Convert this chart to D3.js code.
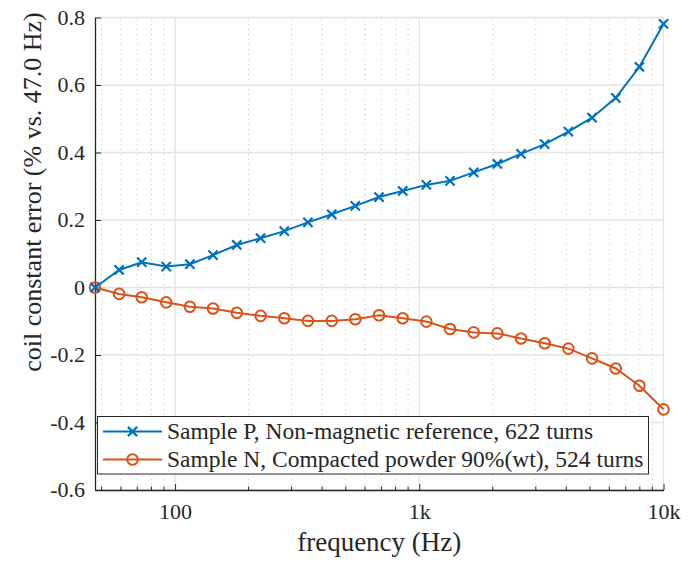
<!DOCTYPE html>
<html>
<head>
<meta charset="utf-8">
<script src="https://cdn.jsdelivr.net/npm/d3@7"></script>
<style>
  body { margin: 0; background: #fff; }
  text { font-family: 'Liberation Serif', serif; }
</style>
</head>
<body>
<svg></svg>
<script>
// frequencies (Hz)
var freqs = [47, 59, 73, 92, 115, 143, 179, 224, 280, 350, 438, 547, 684, 855,
    1069, 1336, 1670, 2088, 2610, 3263, 4079, 5099, 6374, 7968, 10000];
// coil constant error (% vs. 47.0 Hz)
var sampleP = [0, 0.052, 0.075, 0.062, 0.069, 0.096, 0.126, 0.146, 0.167, 0.193, 0.217, 0.242, 0.268, 0.286,
    0.304, 0.316, 0.341, 0.366, 0.396, 0.425, 0.462, 0.503, 0.562, 0.654, 0.781];
var sampleN = [0, -0.019, -0.029, -0.044, -0.057, -0.062, -0.075, -0.084, -0.091, -0.099, -0.099, -0.094, -0.082, -0.091,
    -0.101, -0.123, -0.133, -0.136, -0.151, -0.165, -0.181, -0.210, -0.240, -0.291, -0.361];
var seriesNames = ['Sample P, Non-magnetic reference, 622 turns',
    'Sample N, Compacted powder 90%(wt), 524 turns'];
var yTicks = [-0.6, -0.4, -0.2, 0, 0.2, 0.4, 0.6, 0.8];
var xTicks = [100, 1000, 10000];
var xTickLabels = ['100', '1k', '10k'];

var width = 700, height = 563;
var margin = {top: 17.5, right: 36.5, bottom: 73, left: 95};
var serifFace = 'Liberation Serif';
var ink = '#262626';

var svg = d3.select('svg')
    .attr('width', width)
    .attr('height', height)
    .attr('font-family', serifFace);

var x = d3.scaleLog()
    .domain([47, 10000])
    .range([margin.left, width - margin.right]);
var y = d3.scaleLinear()
    .domain([-0.6, 0.8])
    .range([height - margin.bottom, margin.top]);

var blue = '#0072BD', orange = '#D95319';

// minor x ticks
var minorX = [];
[10, 100, 1000].forEach(function(dec) {
    for (var k = 2; k <= 9; k++) {
        var v = dec * k;
        if (v > 47 && v < 10000) minorX.push(v);
    }
});

var grid = svg.append('g').attr('class', 'grid');
grid.selectAll('line.minor')
    .data(minorX)
    .enter()
    .append('line')
        .attr('x1', (d) => x(d)).attr('x2', (d) => x(d))
        .attr('y1', y(-0.6)).attr('y2', y(0.8))
        .attr('stroke', '#c4c4c4')
        .attr('stroke-width', 1)
        .attr('stroke-dasharray', '1,4');
grid.selectAll('line.majx')
    .data(xTicks)
    .enter()
    .append('line')
        .attr('x1', (d) => x(d)).attr('x2', (d) => x(d))
        .attr('y1', y(-0.6)).attr('y2', y(0.8))
        .attr('stroke', '#e3e3e3')
        .attr('stroke-width', 1.3);
grid.selectAll('line.majy')
    .data(yTicks)
    .enter()
    .append('line')
        .attr('x1', x(47)).attr('x2', x(10000))
        .attr('y1', (d) => y(d)).attr('y2', (d) => y(d))
        .attr('stroke', '#e3e3e3')
        .attr('stroke-width', 1.3);

// axes
var xAxis = svg.append('g')
    .attr('transform', 'translate(0,' + y(-0.6) + ')')
    .call(d3.axisBottom(x).tickValues(xTicks)
        .tickFormat((d, i) => xTickLabels[i])
        .tickSizeInner(-6).tickSizeOuter(0));
xAxis.append('g').selectAll('line')
    .data(minorX)
    .enter()
    .append('line')
        .attr('x1', (d) => x(d)).attr('x2', (d) => x(d))
        .attr('y1', 0).attr('y2', -3.5)
        .attr('stroke', ink);

var yAxis = svg.append('g')
    .attr('transform', 'translate(' + x(47) + ',0)')
    .call(d3.axisLeft(y).tickValues(yTicks)
        .tickFormat((d) => d === 0 ? '0' : d3.format('.1f')(d).replace('\u2212', '-'))
        .tickSizeInner(-6).tickSizeOuter(0).tickPadding(10));

[xAxis, yAxis].forEach(function(a) {
    a.attr('font-family', serifFace).attr('font-size', 22);
    a.select('.domain').attr('stroke', ink).attr('stroke-width', 1.3);
    a.selectAll('.tick line').attr('stroke', ink);
    a.selectAll('.tick text').attr('fill', ink);
});
yAxis.selectAll('.tick text').attr('dy', '0.3em');
xAxis.selectAll('.tick text').attr('y', 29).attr('dy', 0);

// axis labels
svg.append('text')
    .attr('x', (x(47) + x(10000)) / 2)
    .attr('y', 551)
    .attr('text-anchor', 'middle')
    .attr('font-size', 27)
    .attr('fill', ink)
    .text('frequency (Hz)');
svg.append('text')
    .attr('transform', 'translate(41,192) rotate(-90)')
    .attr('text-anchor', 'middle')
    .attr('font-size', 26)
    .attr('fill', ink)
    .text('coil constant error (% vs. 47.0 Hz)');

// series
var line = d3.line()
    .x((d) => x(d[0]))
    .y((d) => y(d[1]));
var dataP = freqs.map((f, i) => [f, sampleP[i]]);
var dataN = freqs.map((f, i) => [f, sampleN[i]]);

svg.append('path')
    .datum(dataP)
    .attr('d', line)
    .attr('fill', 'none')
    .attr('stroke', blue)
    .attr('stroke-width', 2);
svg.append('path')
    .datum(dataN)
    .attr('d', line)
    .attr('fill', 'none')
    .attr('stroke', orange)
    .attr('stroke-width', 2);

function cross(sel, s) {
    sel.append('path')
        .attr('d', 'M' + (-s) + ',' + (-s) + 'L' + s + ',' + s + 'M' + (-s) + ',' + s + 'L' + s + ',' + (-s))
        .attr('stroke', blue)
        .attr('stroke-width', 2.2)
        .attr('fill', 'none');
}

svg.append('g').selectAll('circle')
    .data(dataN)
    .enter()
    .append('circle')
        .attr('cx', (d) => x(d[0]))
        .attr('cy', (d) => y(d[1]))
        .attr('r', 5.3)
        .attr('fill', 'none')
        .attr('stroke', orange)
        .attr('stroke-width', 2);
svg.append('g').selectAll('g')
    .data(dataP)
    .enter()
    .append('g')
        .attr('transform', (d) => 'translate(' + x(d[0]) + ',' + y(d[1]) + ')')
        .call(cross, 4.6);

// legend
var legend = svg.append('g');
legend.append('rect')
    .attr('x', 97.5).attr('y', 416.5)
    .attr('width', 551).attr('height', 57.5)
    .attr('fill', '#fff')
    .attr('stroke', ink)
    .attr('stroke-width', 1);
var rows = [431.5, 459.5];
[blue, orange].forEach(function(c, i) {
    legend.append('line')
        .attr('x1', 103).attr('x2', 162)
        .attr('y1', rows[i]).attr('y2', rows[i])
        .attr('stroke', c).attr('stroke-width', 2);
    var m = legend.append('g').attr('transform', 'translate(132.5,' + rows[i] + ')');
    if (i === 0) {
        cross(m, 4.6);
    } else {
        m.append('circle').attr('r', 5.3).attr('fill', 'none')
            .attr('stroke', orange).attr('stroke-width', 2);
    }
    legend.append('text')
        .attr('x', 167)
        .attr('y', rows[i])
        .attr('dy', '0.3em')
        .attr('font-size', 23.5)
        .attr('fill', ink)
        .text(seriesNames[i]);
});
</script>
</body>
</html>
